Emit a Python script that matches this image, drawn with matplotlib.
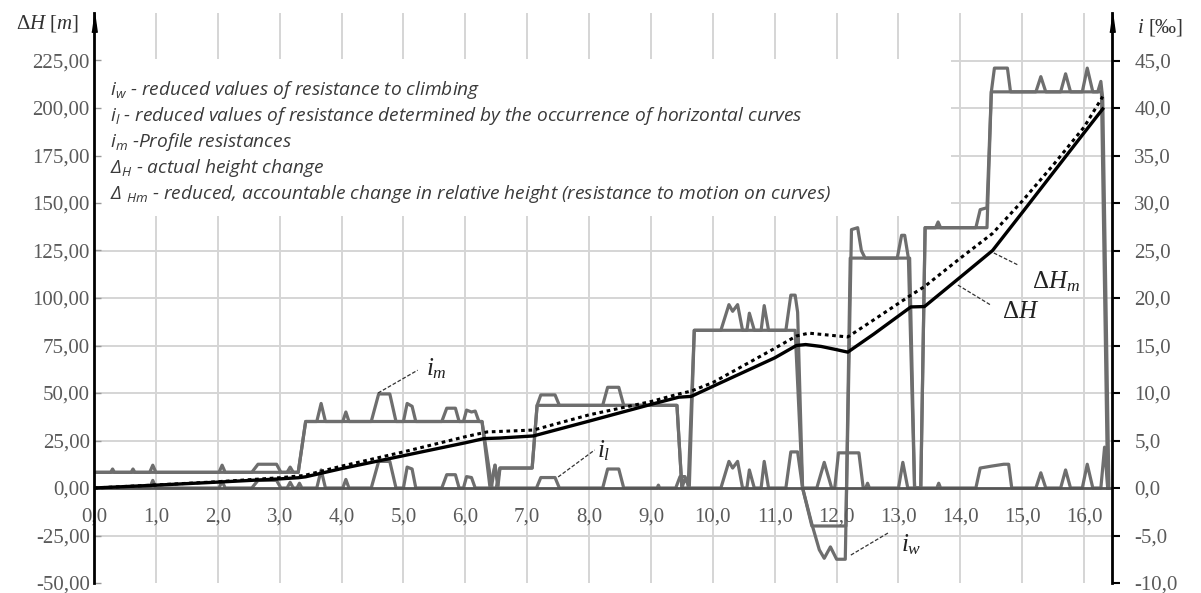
import numpy as np
import matplotlib.pyplot as plt
from matplotlib.patches import Rectangle

# ---- values ----
# height change along the line [km] -> [m]
km_h = [0.0, 1.0, 2.0, 3.0, 3.3, 3.42, 4.0, 5.0, 6.0, 6.3, 6.56, 7.1, 8.0, 9.0, 9.45,
        9.65, 10.0, 11.0, 11.35, 11.5, 11.75, 12.0, 12.18, 12.6, 13.2, 13.42, 14.0,
        14.52, 15.0, 15.5, 16.0, 16.3]
dH = [0.0, 1.5, 3.1, 4.8, 5.4, 5.9, 10.2, 17.0, 23.8, 26.0, 26.3, 27.4, 35.2, 44.0, 47.8,
      48.2, 53.5, 68.5, 75.0, 75.5, 74.5, 72.8, 71.5, 81.0, 95.3, 95.5, 111.0,
      125.0, 145.0, 166.0, 187.0, 199.5]

# reduced (accountable) height change [m]
km_hm = [0.0, 1.0, 2.0, 3.0, 3.4, 4.0, 5.0, 6.0, 6.35, 7.1, 8.0, 9.0, 9.45, 9.65, 10.0,
         11.0, 11.35, 11.55, 12.18, 12.6, 13.2, 13.42, 14.0, 14.52, 15.0, 15.5, 16.0, 16.3]
dHm = [0.0, 1.6, 3.3, 5.4, 6.6, 11.5, 19.0, 27.0, 29.5, 30.5, 38.5, 45.5, 49.5, 51.0, 55.5,
       73.5, 80.0, 81.5, 79.5, 88.5, 101.5, 106.0, 121.0, 134.0, 151.0, 170.0, 190.0, 206.0]

# profile resistance i_m [permille]
km_im = [0.0, 3.3, 3.42, 6.27, 6.43, 6.5, 6.56, 7.08, 7.16, 9.42, 9.5, 9.6, 9.7, 11.33,
         11.45, 11.6, 12.15, 12.22, 13.18, 13.26, 13.36, 13.43, 14.43, 14.5, 16.28, 16.38]
i_m = [1.65, 1.65, 7.0, 7.0, 0.0, 0.0, 2.1, 2.1, 8.7, 8.7, 0.0, 0.0, 16.6, 16.6,
       0.0, -4.0, -4.0, 24.2, 24.2, 0.0, 0.0, 27.4, 27.4, 41.7, 41.7, 0.0]

# curve resistance i_l [permille]
km_il = [0.0, 0.9, 0.95, 1.0, 2.02, 2.07, 2.12, 2.55, 2.65, 2.95, 3.02, 3.12, 3.17, 3.22,
         3.28, 3.32, 3.36, 3.6, 3.67, 3.74, 4.02, 4.07, 4.12, 4.48, 4.6, 4.78, 4.88,
         5.0, 5.06, 5.14, 5.2, 5.62, 5.7, 5.84, 5.9, 5.97, 6.02, 6.1, 6.16, 6.42, 6.48,
         6.53, 7.15, 7.22, 7.45, 7.52, 8.22, 8.3, 8.48, 8.56, 9.1, 9.12, 9.14, 9.4, 9.47,
         9.55, 9.62, 10.13, 10.26, 10.32, 10.4, 10.48, 10.55, 10.59, 10.67, 10.78, 10.83,
         10.9, 11.18, 11.26, 11.37, 11.45, 11.68, 11.8, 11.92, 11.97, 12.03, 12.36, 12.43,
         12.47, 12.5, 12.53, 13.0, 13.07, 13.15, 13.62, 13.65, 13.68, 14.25, 14.32, 14.5,
         14.7, 14.78, 14.83, 15.22, 15.3, 15.38, 15.62, 15.7, 15.78, 15.97, 16.05, 16.14,
         16.27, 16.33, 16.38]
i_l = [0.0, 0.0, 0.8, 0.0, 0.0, 0.7, 0.0, 0.0, 0.8, 0.8, 0.0, 0.0, 0.6, 0.0,
       0.0, 0.5, 0.0, 0.0, 1.9, 0.0, 0.0, 0.9, 0.0, 0.0, 2.8, 2.8, 0.0,
       0.0, 2.2, 2.0, 0.0, 0.0, 1.4, 1.4, 0.0, 0.0, 1.2, 1.1, 0.0, 0.0, 2.4,
       0.0, 0.0, 1.1, 1.1, 0.0, 0.0, 2.0, 2.0, 0.0, 0.0, 0.3, 0.0, 0.0, 1.2,
       1.2, 0.0, 0.0, 2.8, 2.1, 2.8, 0.0, 0.0, 1.9, 0.0, 0.0, 2.8,
       0.0, 0.0, 3.8, 3.8, 0.0, 0.0, 2.7, 0.0, 0.0, 3.7, 3.7, 0.0,
       0.0, 0.5, 0.0, 0.0, 2.7, 0.0, 0.0, 0.5, 0.0, 0.0, 2.1, 2.3,
       2.5, 2.5, 0.0, 0.0, 1.6, 0.0, 0.0, 1.9, 0.0, 0.0, 2.5, 0.0,
       0.0, 4.3, 0.0]

# reduced resistance to climbing i_w [permille]
km_iw = [0.0, 0.27, 0.3, 0.33, 0.6, 0.63, 0.66, 0.9, 0.95, 1.0, 2.02, 2.07, 2.12, 2.55,
         2.65, 2.95, 3.02, 3.12, 3.17, 3.22, 3.3, 3.42, 3.6, 3.67, 3.74, 4.02, 4.07, 4.12,
         4.48, 4.6, 4.78, 4.88, 5.0, 5.06, 5.14, 5.2, 5.62, 5.7, 5.84, 5.9, 5.97, 6.02,
         6.1, 6.16, 6.22, 6.27, 6.4, 6.48, 6.53, 6.56, 7.08, 7.16, 7.22, 7.45, 7.52, 8.22,
         8.3, 8.48, 8.56, 9.42, 9.5, 9.55, 9.62, 9.7, 10.13, 10.26, 10.32, 10.4, 10.48,
         10.55, 10.59, 10.67, 10.78, 10.83, 10.9, 11.18, 11.26, 11.33, 11.37, 11.45, 11.6,
         11.72, 11.8, 11.9, 12.0, 12.14, 12.24, 12.34, 12.4, 12.46, 12.98, 13.05, 13.1,
         13.16, 13.26, 13.36, 13.43, 13.6, 13.64, 13.68, 14.25, 14.32, 14.43, 14.5, 14.55,
         14.76, 14.81, 15.22, 15.3, 15.38, 15.62, 15.7, 15.78, 15.97, 16.05, 16.14, 16.22,
         16.27, 16.3, 16.4]
i_w = [1.65, 1.65, 2.0, 1.65, 1.65, 2.0, 1.65, 1.65, 2.4, 1.65, 1.65, 2.4, 1.65, 1.65,
       2.5, 2.5, 1.65, 1.65, 2.2, 1.65, 1.65, 7.0, 7.0, 8.9, 7.0, 7.0, 8.0, 7.0,
       7.0, 9.9, 9.9, 7.0, 7.0, 8.9, 8.6, 7.0, 7.0, 8.4, 8.4, 7.0, 7.0, 8.2,
       8.0, 8.1, 7.0, 7.0, 0.0, 2.4, 0.3, 2.1, 2.1, 8.7, 9.8, 9.8, 8.7, 8.7,
       10.6, 10.6, 8.7, 8.7, 0.0, 1.0, 0.2, 16.6, 16.6, 19.3, 18.6, 19.3, 16.6,
       16.6, 18.4, 16.6, 16.6, 19.2, 16.6, 16.6, 20.3, 20.3, 18.5, 0.0, -3.8,
       -6.5, -7.4, -6.2, -7.5, -7.5, 27.2, 27.4, 25.0, 24.2, 24.2, 26.6, 26.6,
       24.2, 0.0, 0.0, 27.4, 27.4, 28.0, 27.4, 27.4, 29.3, 29.5, 41.7, 44.2,
       44.2, 41.7, 41.7, 43.3, 41.7, 41.7, 43.6, 41.7, 41.7, 44.2, 41.7, 41.7,
       42.8, 41.0, 0.0]

legend_lines = [
    r'$\mathsf{i_w}$ - reduced values of resistance to climbing',
    r'$\mathsf{i_l}$ - reduced values of resistance determined by the occurrence of horizontal curves',
    r'$\mathsf{i_m}$ -Profile resistances',
    r'$\mathsf{\Delta_H}$ - actual height change',
    r'$\mathsf{\Delta\ {}_{Hm}}$ - reduced, accountable change in relative height (resistance to motion on curves)',
]

x_ticks = np.arange(0, 17, 1)
h_ticks = np.arange(-50, 226, 25)
i_ticks = np.arange(-10, 46, 5)

plt.rcParams['font.family'] = 'Liberation Serif'
plt.rcParams['mathtext.fontset'] = 'custom'
plt.rcParams['mathtext.rm'] = 'Liberation Serif'
plt.rcParams['mathtext.it'] = 'Liberation Serif:italic'
plt.rcParams['mathtext.sf'] = 'Open Sans:italic'

W, H = 1201, 593
fig = plt.figure(figsize=(W / 100, H / 100), dpi=100, facecolor='white')
ax = fig.add_axes((94 / W, 10 / H, (1112 - 94) / W, (583 - 13) / H))
ax2 = ax.twinx()
ax.set_zorder(2)
ax2.set_zorder(1)
ax.patch.set_visible(False)
ax2.patch.set_visible(True)
ax2.patch.set_facecolor('white')

ax.set_xlim(0, 16.45)
ax.set_ylim(-50, 250)
ax2.set_ylim(-10, 50)

grid_c = '#d5d5d5'
line_c = '#6e6e6e'

# grid (lower layer)
for xv in x_ticks[1:]:
    ax2.axvline(xv, color=grid_c, lw=1.4, zorder=0.5)
for yv in i_ticks[1:]:
    if yv != 0:
        ax2.axhline(yv, color=grid_c, lw=1.4, zorder=0.5)

# white box behind the legend text
ax2.add_patch(Rectangle((0, 28.6), 13.85, 16.6, facecolor='white', edgecolor='none', zorder=1))

# resistances on the right axis
for xs, ys in [(km_im, i_m), (km_il, i_l), (km_iw, i_w)]:
    ax2.plot(xs, ys, color=line_c, lw=2.3, zorder=2, solid_joinstyle='round')
ax2.axhline(0, color='#555555', lw=2, zorder=2.5)

# height changes on the left axis
ax.plot(km_hm, dHm, color='black', lw=2.2, linestyle=(0, (1.2, 1.2)), zorder=3)
ax.plot(km_h, dH, color='black', lw=2.4, zorder=3)

# spines and ticks
for s in ['top', 'right', 'bottom']:
    ax.spines[s].set_visible(False)
for s in ['top', 'left', 'bottom']:
    ax2.spines[s].set_visible(False)
ax.spines['left'].set_linewidth(2)
ax2.spines['right'].set_linewidth(2)

tick_c = '#5a5a5a'
ax.set_xticks(x_ticks)
ax.set_xticklabels(['{:.1f}'.format(v).replace('.', ',') for v in x_ticks])
# x labels sit under the zero line
ax.spines['bottom'].set_position(('data', 0))
ax.tick_params(axis='x', length=0, pad=14, labelsize=15, labelcolor=tick_c)

ax.set_yticks(h_ticks)
ax.set_yticklabels(['{:.2f}'.format(v).replace('.', ',') for v in h_ticks])
ax.tick_params(axis='y', direction='in', length=5, width=1, color='#999999',
               labelsize=15, labelcolor=tick_c, pad=3)

ax2.set_yticks(i_ticks)
ax2.set_yticklabels(['{:.1f}'.format(v).replace('.', ',') for v in i_ticks])
ax2.tick_params(axis='y', direction='out', length=6, width=1.5, color='black',
                labelsize=15, labelcolor=tick_c, pad=10)

# arrows on top of both vertical axes
arrow = [(-0.28, -1.0), (0.28, -1.0), (0.0, 1.0)]
for xa in [0, 1]:
    ax.plot([xa], [0.985], marker=arrow, ms=14, color='black', transform=ax.transAxes,
            clip_on=False, zorder=5)

# leader lines and curve names
lead = dict(color='#333333', lw=0.9, linestyle=(0, (3, 1.5)))
ax.plot([14.54, 14.93], [123.7, 117.4], **lead)
ax.text(15.54, 108.4, r'$\Delta H_m$', fontsize=18, ha='center', va='center', color='#222222')
ax.plot([13.96, 14.49], [106.8, 96.3], **lead)
ax.text(14.98, 92.6, r'$\Delta H$', fontsize=18, ha='center', va='center', color='#222222')
ax.plot([4.59, 5.23], [50, 62], **lead)
ax.text(5.54, 63.0, r'$i_m$', fontsize=18, ha='center', va='center', color='#222222')
ax.plot([7.5, 8.09], [5.8, 20], **lead)
ax.text(8.24, 19.5, r'$i_l$', fontsize=18, ha='center', va='center', color='#222222')
ax.plot([12.23, 12.83], [-35.3, -23.7], **lead)
ax.text(13.2, -30, r'$i_w$', fontsize=18, ha='center', va='center', color='#222222')

# legend text
for k, txt in enumerate(legend_lines):
    fig.text(110 / W, 1 - (90 + 26 * k) / H, txt, fontsize=13.8, family='Open Sans',
             style='italic', color='#3a3a3a', ha='left', va='center')

# axis titles
fig.text(48 / W, 1 - 24 / H, r'$\Delta H$ [$m$]', fontsize=15, ha='center', va='center', color='#333333')
fig.text(1160 / W, 1 - 27 / H, r'$i$ [‰]', fontsize=15, ha='center', va='center', color='#333333')

fig.savefig('out.png', dpi=100, facecolor='white')
